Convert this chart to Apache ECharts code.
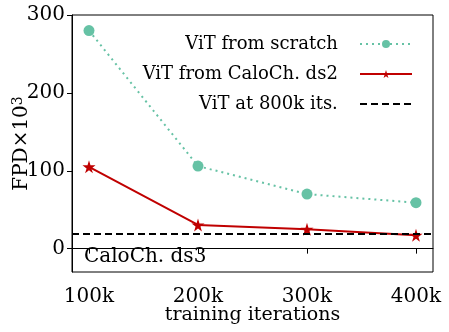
<!DOCTYPE html>
<html>
<head>
<meta charset="utf-8">
<script src="https://cdn.jsdelivr.net/npm/echarts@6/dist/echarts.min.js"></script>
<style>
html, body { margin: 0; padding: 0; background: #fff; }
#chart { width: 449px; height: 332px; }
</style>
</head>
<body>
<div id="chart"></div>
<script>
// training iterations (in k)
var iterations = [100, 200, 300, 400];
var iterLabels = ["100k", "200k", "300k", "400k"];
var scratch = [280, 106, 70, 59];
var fromDs2 = [105, 30.5, 25, 17.2];
var ref800k = 19.3;
var yTicks = [0, 100, 200, 300];

var font = "DejaVu Serif";
var star = "path://M50,0 L61,35 L98,35 L68,57 L79,91 L50,70 L21,91 L32,57 L2,35 L39,35 Z";

function pairs(ys) {
    return iterations.map(function (x, i) { return [x, ys[i]]; });
}

var chart = echarts.init(document.getElementById("chart"));
chart.setOption({
    animation: false,
    backgroundColor: "#fff",
    grid: {
        left: 72,
        right: 16,
        top: 15,
        bottom: 60,
        containLabel: false,
        outerBoundsMode: "none",
        show: true,
        borderColor: "#000",
        borderWidth: 1
    },
    legend: {
        right: 31,
        top: 29,
        orient: "vertical",
        align: "right",
        itemWidth: 52,
        itemHeight: 10,
        itemGap: 10,
        formatter: function (name) { return name + "   "; },
        textStyle: { fontFamily: font, fontSize: 18, color: "#000", lineHeight: 20 },
        data: [
            "ViT from scratch",
            "ViT from CaloCh. ds2",
            { name: "ViT at 800k its.", itemStyle: { opacity: 0 } }
        ]
    },
    graphic: [{
        type: "text",
        left: 84,
        top: 247,
        style: { text: "CaloCh. ds3", font: "20px " + font, fill: "#000" }
    }],
    xAxis: {
        type: "value",
        min: 84.4,
        max: 415.6,
        name: "training iterations",
        nameLocation: "middle",
        nameGap: 34,
        nameMoveOverlap: false,
        nameTextStyle: { fontFamily: font, fontSize: 19, color: "#000" },
        splitLine: { show: false },
        axisLine: { lineStyle: { color: "#000" } },
        axisTick: { length: 5, lineStyle: { color: "#000" }, customValues: iterations },
        axisLabel: {
            customValues: iterations,
            formatter: function (v) { return iterLabels[iterations.indexOf(v)]; },
            fontFamily: font, fontSize: 20, color: "#000", margin: 15
        }
    },
    yAxis: {
        type: "value",
        min: -30,
        max: 300,
        name: "FPD×10{sup|3}",
        nameLocation: "middle",
        nameGap: 39,
        nameMoveOverlap: false,
        nameTextStyle: {
            fontFamily: font, fontSize: 20, color: "#000",
            rich: { sup: { fontFamily: font, fontSize: 14, color: "#000", verticalAlign: "top", padding: [0, 0, 8, 0] } }
        },
        splitLine: { show: false },
        axisLine: { show: true, lineStyle: { color: "#000" } },
        axisTick: { length: 5, lineStyle: { color: "#000" }, customValues: yTicks },
        axisLabel: {
            customValues: yTicks,
            fontFamily: font, fontSize: 20, color: "#000", margin: 7
        }
    },
    series: [
        {
            name: "ViT from scratch",
            type: "line",
            data: pairs(scratch),
            symbol: "circle",
            symbolSize: 11,
            itemStyle: { color: "#66c2a5" },
            lineStyle: { color: "#66c2a5", width: 2, type: [2, 4] },
            z: 3
        },
        {
            name: "ViT from CaloCh. ds2",
            type: "line",
            data: pairs(fromDs2),
            symbol: star,
            symbolSize: 13,
            itemStyle: { color: "#c00000" },
            lineStyle: { color: "#c00000", width: 2 },
            z: 4
        },
        {
            name: "ViT at 800k its.",
            type: "line",
            data: [],
            symbol: "none",
            itemStyle: { color: "#000" },
            lineStyle: { color: "#000", width: 2, type: [7, 4] },
            markLine: {
                silent: true,
                symbol: "none",
                label: { show: false },
                lineStyle: { color: "#000", width: 2, type: [7, 4] },
                data: [{ yAxis: ref800k }]
            },
            z: 2
        }
    ]
});
</script>
</body>
</html>
